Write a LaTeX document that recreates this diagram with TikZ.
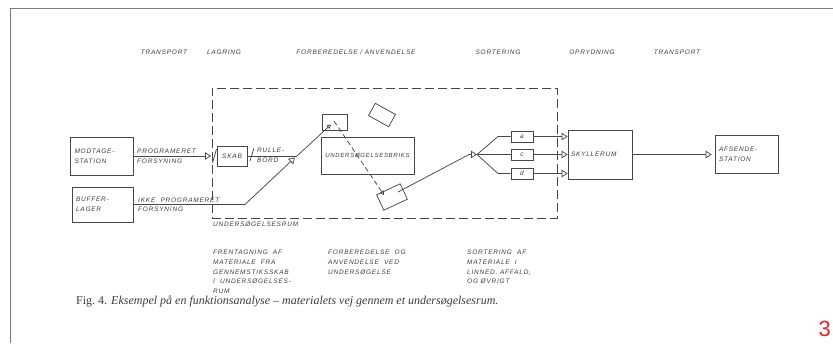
\documentclass[tikz,border=0pt]{standalone}
\usepackage{fontspec}
\setmainfont{Liberation Serif}
\newfontfamily\handfont{Liberation Sans}[LetterSpace=12]
\newfontfamily\numfont{Liberation Sans}
\usetikzlibrary{arrows.meta}
\definecolor{inkc}{HTML}{474747}
\definecolor{txtc}{HTML}{3C3C3C}
\definecolor{framec}{HTML}{7A7A7A}
\definecolor{pagered}{HTML}{E0262B}
\tikzset{
  ink/.style={draw=inkc, line width=0.75pt},
  hand/.style={font=\handfont\itshape\fontsize{6.5}{9.7}\selectfont, text=txtc},
  blk/.style={ink, rectangle, inner sep=0pt, hand},
  lbl/.style={hand, inner sep=0pt},
  otip/.style={-{Triangle[open,length=6pt,width=7.5pt]}},
  stip/.style={-{Triangle[open,length=4pt,width=4.5pt]}},
  roomline/.style={ink, dash pattern=on 9pt off 4pt},
}
\begin{document}
\begin{tikzpicture}[x=1pt,y=-1pt]
\useasboundingbox (0,0) rectangle (833,343);
% page frame
\draw[framec, line width=1pt] (10,343) -- (10,8) -- (833,8);

% header
\node[lbl] (h1) at (164,52) {TRANSPORT};
\node[lbl] (h2) at (224,52) {LAGRING};
\node[lbl] (h3) at (356,52) {FORBEREDELSE / ANVENDELSE};
\node[lbl] (h4) at (498,52) {SORTERING};
\node[lbl] (h5) at (592,52) {OPRYDNING};
\node[lbl] (h6) at (677,52) {TRANSPORT};

% room frame
\node[roomline, minimum width=345pt, minimum height=130pt, inner sep=0pt] (room) at (384.5,153) {};
\node[lbl, anchor=north west] (roomlbl) at (213,222) {UNDERSØGELSESRUM};

% blocks
\node[blk, minimum height=38pt, text width=55pt, inner xsep=4pt, align=left] (modt) at (102,156) {MODTAGE-\\STATION};
\node[blk, minimum height=35pt, text width=53pt, inner xsep=4pt, align=left] (buff) at (102.5,204.5) {BUFFER-\\LAGER};
\node[blk, minimum width=30pt, minimum height=20pt] (skab) at (232,156) {SKAB};
\node[blk, minimum width=93pt, minimum height=37pt, font=\handfont\itshape\fontsize{6}{8}\selectfont] (briks) at (367.5,155.5) {UNDERSØGELSESBRIKS};
\node[blk, minimum height=49pt, text width=58pt, inner xsep=3pt, align=left] (skyl) at (600,154.5) {SKYLLERUM};
\node[blk, minimum height=38pt, text width=55pt, inner xsep=4pt, align=left] (afs) at (746.5,154.5) {AFSENDE-\\STATION};
\node[blk, minimum width=22pt, minimum height=11pt] (ba) at (522,136.5) {a};
\node[blk, minimum width=22pt, minimum height=11pt] (bc) at (522,154.5) {c};
\node[blk, minimum width=22pt, minimum height=11pt] (bd) at (522,173.5) {d};
\node[ink, minimum width=25pt, minimum height=16pt, inner sep=0pt] (rb) at (334.5,122) {};
\node[ink, minimum width=23pt, minimum height=14pt, inner sep=0pt, rotate=-29] (tb1) at (382,115) {};
\node[ink, minimum width=26pt, minimum height=17pt, inner sep=0pt, rotate=25] (tb2) at (392,197) {};

% programmed supply
\coordinate (a1) at (211,156);
\draw[ink, otip] (modt) -- (a1);
\draw[ink] (212.5,163) -- (216.5,149);
\node[lbl, anchor=south west] (lp1) at (137,153.5) {PROGRAMERET};
\node[lbl, anchor=north west] (lp2) at (137,158.5) {FORSYNING};

% skab to rullebord
\coordinate (r1) at (297,156);
\coordinate (r2) at (331,124.5);
\draw[ink] (skab) -- (r1);
\draw[ink, stip] (r1) -- (r2);
\draw[ink] (250,161) -- (254,148);
\node[lbl, anchor=west, align=left] (rul) at (257,155.5) {RULLE-\\BORD};

% non programmed supply
\coordinate (b1) at (245,204.5);
\coordinate (b2) at (295,157.5);
\draw[ink, otip] (buff) -- (b1) -- (b2);
\node[lbl, anchor=south west] (lp3) at (138,202.5) {IKKE\ \ PROGRAMERET};
\node[lbl, anchor=north west] (lp4) at (138,207) {FORSYNING};

% dashed path across the couch
\coordinate (d1) at (334,121);
\coordinate (d2) at (384,195);
\draw[ink, dash pattern=on 5pt off 3pt, stip] (d1) -- (d2);

% to sorting
\coordinate (e1) at (398,192);
\coordinate (f0) at (469,154.5);
\coordinate (fk) at (477,154.5);
\draw[ink] (e1) -- (f0);
\draw[ink, otip] (f0) -- (fk);
\coordinate (fa) at (498,136.5);
\coordinate (fd) at (498,173.5);
\draw[ink] (fk) -- (fa) -- (ba);
\draw[ink] (fk) -- (bc);
\draw[ink] (fk) -- (fd) -- (bd);
\draw[ink, otip] (ba) -- (ba -| skyl.west);
\draw[ink, otip] (bc) -- (bc -| skyl.west);
\draw[ink, otip] (bd) -- (bd -| skyl.west);
\draw[ink, otip, shorten >=3pt] (skyl) -- (afs);

% bottom texts
\node[lbl, anchor=north west, align=left] (c1) at (213,250) {FRENTAGNING\ \ AF\\MATERIALE\ \ FRA\\GENNEMSTIKSSKAB\\I\ \ UNDERSØGELSES-\\RUM};
\node[lbl, anchor=north west, align=left] (c2) at (328,250) {FORBEREDELSE\ \ OG\\ANVENDELSE\ \ VED\\UNDERSØGELSE};
\node[lbl, anchor=north west, align=left] (c3) at (467,250) {SORTERING\ \ AF\\MATERIALE\ \ I\\LINNED, AFFALD,\\OG ØVRIGT};

% caption
\node[font=\fontsize{12}{14}\selectfont, text=txtc, anchor=west, inner sep=0pt] (cap) at (76,301) {Fig.~4. \itshape Eksempel på en funktionsanalyse -- materialets vej gennem et undersøgelsesrum.};

% page number
\node[font=\numfont\fontsize{22}{22}\selectfont, text=pagered, inner sep=0pt, anchor=south east] (pg) at (831,337) {3};
\end{tikzpicture}
\end{document}
